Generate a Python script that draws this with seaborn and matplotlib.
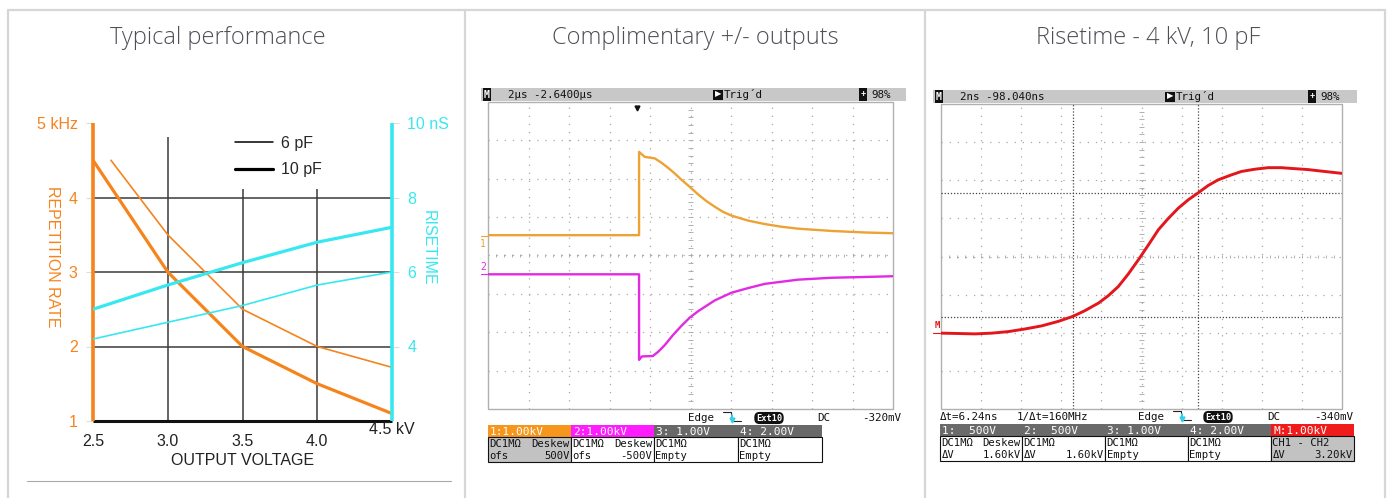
import matplotlib.pyplot as plt
import seaborn as sns
import numpy as np
from matplotlib.patches import Rectangle
from matplotlib.lines import Line2D

### DATA - typical performance (kV vs kHz / ns)
voltage = [2.5, 3.0, 3.5, 4.0, 4.5]
voltage_6pf = [2.62, 3.0, 3.5, 4.0, 4.5]
rate_6pf = [4.5, 3.5, 2.5, 2.0, 1.72]
rate_10pf = [4.5, 3.0, 2.0, 1.5, 1.1]
rise_6pf = [4.2, 4.65, 5.1, 5.65, 6.0]
rise_10pf = [5.0, 5.65, 6.25, 6.8, 7.2]
rate_ticks = [1, 2, 3, 4, 5]
rate_labels = ['1', '2', '3', '4', '5 kHz']
rise_ticks = [4, 6, 8, 10]
rise_labels = ['4', '6', '8', '10 nS']
volt_ticks = [2.5, 3.0, 3.5, 4.0]
volt_labels = ['2.5', '3.0', '3.5', '4.0']

### DATA - scope traces, in screen divisions
ch1_t = [0, 3.73, 3.73, 3.87, 4.12, 4.28, 4.44, 4.61, 4.77, 4.98, 5.19, 5.39, 5.60, 5.80,
         6.01, 6.42, 6.83, 7.24, 7.65, 8.48, 9.30, 10]
ch1_v = [0.53, 0.53, 2.7, 2.57, 2.53, 2.42, 2.29, 2.14, 1.98, 1.79, 1.59, 1.42, 1.27, 1.14,
         1.04, 0.91, 0.82, 0.75, 0.70, 0.64, 0.60, 0.58]
ch2_t = [0, 3.73, 3.73, 3.8, 4.07, 4.20, 4.36, 4.57, 4.77, 4.98, 5.19, 5.60, 6.01, 6.42,
         6.83, 7.65, 8.48, 9.30, 10]
ch2_v = [-0.49, -0.49, -2.72, -2.63, -2.62, -2.51, -2.34, -2.07, -1.84, -1.62, -1.45, -1.17,
         -0.97, -0.85, -0.74, -0.63, -0.58, -0.56, -0.54]
rise_t = [0, 0.44, 0.85, 1.27, 1.68, 2.10, 2.51, 2.93, 3.29, 3.59, 3.93, 4.17, 4.42, 4.67,
          4.92, 5.17, 5.42, 5.67, 5.92, 6.17, 6.40, 6.66, 6.91, 7.24, 7.49, 7.83, 8.16, 8.49,
          8.74, 9.15, 9.57, 10]
rise_v = [-2.01, -2.02, -2.03, -2.01, -1.97, -1.90, -1.82, -1.70, -1.57, -1.42, -1.22, -1.03,
          -0.79, -0.46, -0.09, 0.30, 0.70, 1.00, 1.27, 1.49, 1.66, 1.86, 2.01, 2.14, 2.23, 2.29,
          2.33, 2.33, 2.31, 2.28, 2.23, 2.18]
cursor_t = [3.29, 6.40]
cursor_v = [1.66, -1.59]

### DATA - scope readouts
out_header = ['2µs -2.6400µs', 'Trig´d', '98%']
out_status = ['Edge', 'DC', '-320mV']
out_boxes = ['1:1.00kV', '2:1.00kV', '3: 1.00V', '4: 2.00V']
out_rows = [[('DC1MΩ', 'Deskew'), ('ofs', '500V')],
            [('DC1MΩ', 'Deskew'), ('ofs', '-500V')],
            [('DC1MΩ', ''), ('Empty', '')],
            [('DC1MΩ', ''), ('Empty', '')]]
rise_header = ['2ns -98.040ns', 'Trig´d', '98%']
rise_status = ['Δt=6.24ns', '1/Δt=160MHz', 'Edge', 'DC', '-340mV']
rise_boxes = ['1:  500V', '2:  500V', '3: 1.00V', '4: 2.00V', 'M:1.00kV']
rise_rows = [[('DC1MΩ', 'Deskew'), ('ΔV', '1.60kV')],
             [('DC1MΩ', ''), ('ΔV', '1.60kV')],
             [('DC1MΩ', ''), ('Empty', '')],
             [('DC1MΩ', ''), ('Empty', '')],
             [('CH1 - CH2', ''), ('ΔV', '3.20kV')]]

ORANGE = '#f6841c'
CYAN = '#38e8f0'
MONO = 'DejaVu Sans Mono'

sns.set_theme(style='white')
plt.rcParams['font.family'] = ['Liberation Sans', 'DejaVu Sans']

W, H = 1391, 498
fig = plt.figure(figsize=(W / 100, H / 100), dpi=100)

def px_axes(x0, y0, x1, y1):
    return fig.add_axes([x0 / W, 1 - y1 / H, (x1 - x0) / W, (y1 - y0) / H])

bg = px_axes(0, 0, W, H)
bg.set_xlim(0, W)
bg.set_ylim(H, 0)
bg.axis('off')

# frame
border = '#d6d6d6'
bg.plot([8, 1385], [10, 10], color=border, lw=1.6)
for xb in [8, 465, 925, 1385]:
    bg.plot([xb, xb], [10, H], color=border, lw=1.6)
bg.plot([27, 451], [481, 481], color='#a8a8a8', lw=0.8)

for xc, title in [(218, 'Typical performance'), (695, 'Complimentary +/- outputs'),
                  (1148, 'Risetime - 4 kV, 10 pF')]:
    bg.text(xc, 38, title, ha='center', va='center', fontsize=17, color='#4f4f57',
            family='Open Sans', fontweight='light')

### PANEL 1
ax = px_axes(93, 123, 392, 421)
ax.set_xlim(2.5, 4.5)
ax.set_ylim(1, 5)
for s in ax.spines.values():
    s.set_visible(False)
ax.hlines([2, 3, 4], 2.5, 4.5, color='#3a3a3a', lw=1.1, zorder=1)
ax.vlines(3.0, 1, 4.81, color='#3a3a3a', lw=1.1, zorder=1)
ax.vlines([3.5, 4.0], 1, 4.11, color='#3a3a3a', lw=1.1, zorder=1)
ax.hlines(1, 2.5, 4.5, color='#111111', lw=2.2, zorder=3, clip_on=False)
ax.vlines(2.5, 1, 5, color=ORANGE, lw=2.6, zorder=4, clip_on=False)
sns.lineplot(x=voltage_6pf, y=rate_6pf, ax=ax, color=ORANGE, lw=1.2, estimator=None, zorder=2)
sns.lineplot(x=voltage, y=rate_10pf, ax=ax, color=ORANGE, lw=2.3, estimator=None, zorder=2)
ax.set_yticks(rate_ticks, rate_labels)
ax.set_xticks(volt_ticks, volt_labels)
ax.tick_params(axis='y', length=5, width=0.8, color='#dddddd', labelcolor=ORANGE, labelsize=11.5, pad=6, left=True)
ax.tick_params(axis='x', length=0, labelcolor='#222222', labelsize=11.5, pad=9)
ax.set_xlabel('OUTPUT VOLTAGE', fontsize=11.5, color='#222222', va='center')
ax.xaxis.set_label_coords(0.5, -0.131)
ax.set_ylabel('REPETITION RATE', fontsize=11.5, color=ORANGE, rotation=270, va='center')
ax.yaxis.set_label_coords(-0.134, 0.55)
ax.text(4.5, -0.03, '4.5 kV', transform=ax.get_xaxis_transform(), ha='center', va='center',
        fontsize=11.5, color='#222222')

ax2 = ax.twinx()
ax2.set_ylim(2, 10)
for s in ax2.spines.values():
    s.set_visible(False)
ax2.vlines(4.5, 2, 10, color=CYAN, lw=2.6, zorder=4, clip_on=False)
sns.lineplot(x=voltage, y=rise_6pf, ax=ax2, color=CYAN, lw=1.2, estimator=None)
sns.lineplot(x=voltage, y=rise_10pf, ax=ax2, color=CYAN, lw=2.3, estimator=None)
ax2.set_yticks(rise_ticks, rise_labels)
ax2.tick_params(axis='y', length=5, width=0.8, color='#dddddd', labelcolor=CYAN, labelsize=11.5, pad=6, right=True)
ax2.set_ylabel('RISETIME', fontsize=11.5, color=CYAN, rotation=270, va='center')
ax2.yaxis.set_label_coords(1.12, 0.58)
handles = [Line2D([], [], color='black', lw=1.1, label='6 pF'),
           Line2D([], [], color='black', lw=2.3, label='10 pF')]
ax2.legend(handles=handles, loc='upper left', bbox_to_anchor=(0.475, 0.958), frameon=False,
           handlelength=2.4, handletextpad=0.45, labelspacing=0.75, borderpad=0,
           borderaxespad=0, fontsize=11.5)

### SCOPE HELPERS
def scope_screen(x0, y0, x1, y1):
    s = px_axes(x0, y0, x1, y1)
    s.set_xlim(0, 10)
    s.set_ylim(-4, 4)
    s.axis('off')
    s.vlines(np.arange(1, 10), -4, 4, color='#a8a8a8', lw=0.9, linestyles=(0, (1, 5.5)))
    s.hlines(np.arange(-3, 4), 0, 10, color='#a8a8a8', lw=0.9, linestyles=(0, (1, 5.5)))
    s.vlines(np.arange(0.2, 10, 0.2), -0.05, 0.05, color='#b0b0b0', lw=0.7)
    s.hlines(np.arange(-3.8, 4, 0.2), 4.95, 5.05, color='#b0b0b0', lw=0.7)
    s.add_patch(Rectangle((0, -4), 10, 8, fill=False, ec='#b0b0b0', lw=1.0, clip_on=False))
    return s

def scope_header(x0, x1, y0, y1, texts, x_text, x_trig, x_pct):
    ym = (y0 + y1) / 2
    bg.add_patch(Rectangle((x0, y0), x1 - x0, y1 - y0, fc='#c8c8c8', ec='none'))
    bg.text(x0 + 6, ym, 'M', ha='center', va='center', fontsize=7, color='white', family=MONO,
            fontweight='bold', bbox=dict(boxstyle='square,pad=0.15', fc='#111111', ec='none'))
    bg.text(x_text, ym, texts[0], ha='left', va='center', fontsize=7.8, family=MONO, color='#111111')
    bg.text(x_trig, ym, '▶', ha='center', va='center', fontsize=6, color='white',
            bbox=dict(boxstyle='square,pad=0.18', fc='#111111', ec='none'))
    bg.text(x_trig + 6, ym, texts[1], ha='left', va='center', fontsize=7.8, family=MONO, color='#111111')
    bg.text(x_pct, ym, '+', ha='center', va='center', fontsize=6.5, color='white', fontweight='bold',
            bbox=dict(boxstyle='square,pad=0.18', fc='#111111', ec='none'))
    bg.text(x_pct + 8, ym, texts[2], ha='left', va='center', fontsize=7.8, family=MONO, color='#111111')

def trig_icon(x, y):
    bg.plot([x, x + 8, x + 8], [y - 5, y - 5, y + 4], color='#222222', lw=0.8)
    bg.plot([x + 10, x + 18], [y + 4, y + 4], color='#222222', lw=0.8)
    bg.plot([x + 9, x + 9], [y - 2, y + 3], color='#2fd2e6', lw=1.4)
    bg.plot([x + 9], [y + 3], marker='v', ms=3.5, color='#2fd2e6')

def ext_pill(x, y):
    bg.text(x, y, 'Ext10', ha='center', va='center', fontsize=6.2, color='white', family=MONO,
            fontweight='bold', bbox=dict(boxstyle='round,pad=0.18,rounding_size=0.6', fc='#111111', ec='none'))

def info_boxes(edges, y0, ym, y1, headers, head_colors, rows, body_colors):
    for i, head in enumerate(headers):
        xa, xb = edges[i], edges[i + 1]
        bg.add_patch(Rectangle((xa, y0), xb - xa, ym - y0, fc=head_colors[i], ec='none'))
        bg.text(xa + 2, (y0 + ym) / 2 + 0.5, head, ha='left', va='center', fontsize=8,
                family=MONO, color='white')
        bg.add_patch(Rectangle((xa, ym), xb - xa, y1 - ym, fc=body_colors[i], ec='#111111', lw=0.8))
        for j, (left, right) in enumerate(rows[i]):
            yy = ym + (y1 - ym) * (0.27 + 0.5 * j)
            bg.text(xa + 1.5, yy, left, ha='left', va='center', fontsize=7.6, family=MONO, color='#111111')
            bg.text(xb - 1.5, yy, right, ha='right', va='center', fontsize=7.6, family=MONO, color='#111111')

### PANEL 2 - complimentary outputs
s2 = scope_screen(488, 102, 893, 409)
sns.lineplot(x=ch1_t, y=ch1_v, ax=s2, color='#eda233', lw=1.7, estimator=None, sort=False)
sns.lineplot(x=ch2_t, y=ch2_v, ax=s2, color='#e22ae2', lw=1.7, estimator=None, sort=False)
s2.plot([3.68], [3.85], marker='v', ms=3.5, color='#111111', clip_on=False)
scope_header(481, 906, 88, 101, out_header, 508, 718, 863)
bg.text(483, 244, '1', ha='center', va='center', fontsize=7, family=MONO, color='#eda233')
bg.plot([481, 488], [236, 236], color='#eda233', lw=0.8)
bg.text(483, 267, '2', ha='center', va='center', fontsize=7, family=MONO, color='#e22ae2')
bg.plot([481, 488], [274, 274], color='#e22ae2', lw=0.8)
bg.text(688, 418, out_status[0], ha='left', va='center', fontsize=7.8, family=MONO, color='#111111')
trig_icon(723, 417)
ext_pill(769, 418)
bg.text(817, 418, out_status[1], ha='left', va='center', fontsize=7.8, family=MONO, color='#111111')
bg.text(901, 418, out_status[2], ha='right', va='center', fontsize=7.8, family=MONO, color='#111111')
info_boxes([488, 571, 654, 738, 822], 425, 437, 462, out_boxes,
           ['#f7961c', '#ff1cff', '#686868', '#686868'], out_rows,
           ['#c2c2c2', 'white', 'white', 'white'])

### PANEL 3 - risetime
s3 = scope_screen(941, 104, 1342, 409)
s3.vlines(cursor_t, -4, 4, color='#444444', lw=0.9, linestyles=(0, (1, 1.5)))
s3.hlines(cursor_v, 0, 10, color='#444444', lw=0.9, linestyles=(0, (1, 1.5)))
sns.lineplot(x=rise_t, y=rise_v, ax=s3, color='#e3161c', lw=2.1, estimator=None, sort=False)
scope_header(933, 1357, 90, 103, rise_header, 960, 1170, 1312)
bg.text(937, 325, 'M', ha='center', va='center', fontsize=6.5, family=MONO, color='#e3161c', fontweight='bold')
bg.plot([933, 941], [333, 333], color='#e3161c', lw=0.8)
for xs, txt in [(940, rise_status[0]), (1017, rise_status[1]), (1138, rise_status[2]), (1267, rise_status[3])]:
    bg.text(xs, 417, txt, ha='left', va='center', fontsize=7.8, family=MONO, color='#111111')
bg.text(1353, 417, rise_status[4], ha='right', va='center', fontsize=7.8, family=MONO, color='#111111')
trig_icon(1173, 416)
ext_pill(1218, 417)
info_boxes([940, 1022, 1105, 1188, 1271, 1354], 424, 436, 461, rise_boxes,
           ['#6a6a6a', '#6a6a6a', '#6a6a6a', '#6a6a6a', '#f01c1c'], rise_rows,
           ['white', 'white', 'white', 'white', '#c2c2c2'])

plt.savefig('out.png', dpi=100)
plt.close('all')
